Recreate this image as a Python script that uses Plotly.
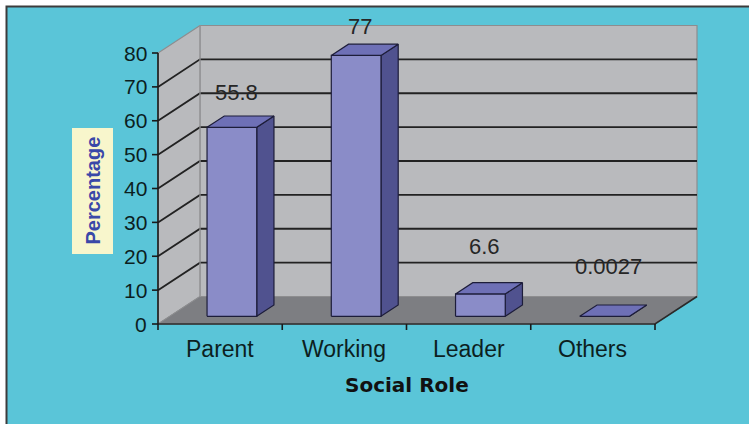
import plotly.graph_objects as go

# ---- data -------------------------------------------------------------
categories = ["Parent", "Working", "Leader", "Others"]
percentages = [55.8, 77, 6.6, 0.0027]
value_labels = ["55.8", "77", "6.6", "0.0027"]
y_ticks = [0, 10, 20, 30, 40, 50, 60, 70, 80]

# ---- pseudo-3D frame --------------------------------------------------
W, H = 749, 424
PX_X = 124.25          # pixels per category slot
PX_Y = 3.3875          # pixels per percentage point
X0_PX, Y0_PX = 158, 324  # front-left corner of the floor
DEPTH_X = 42 / PX_X    # depth offset expressed in category units
DEPTH_Y = 27.5 / PX_Y  # depth offset expressed in value units
YMAX = 80
NCAT = len(categories)

BAR_D0, BAR_D1 = 0.28, 0.69   # bar depth span (fraction of floor depth)
BAR_HALF = 0.2                # half bar width in category units

BG = "#5ac5d8"
WALL = "#b9babd"
FLOOR = "#7d7e82"
GRID = "#222222"
EDGE = "#8d8d8f"
FRONT = "#8a8cc8"
TOP = "#6e70b6"
SIDE = "#50528f"
OUTLINE = "#1d1d3a"
TEXT_FONT = "Liberation Sans, Arial"


def proj(c, v, d):
    """Map (category, value, depth fraction) to the 2-D plotting plane."""
    return c + d * DEPTH_X, v + d * DEPTH_Y


def poly(points, fill, line_color, width=1.0):
    xs, ys = zip(*points)
    xs = list(xs) + [xs[0]]
    ys = list(ys) + [ys[0]]
    return go.Scatter(x=xs, y=ys, mode="lines", fill="toself", fillcolor=fill,
                      line=dict(color=line_color, width=width),
                      hoverinfo="skip", showlegend=False)


def path(points, color, width=1.5):
    xs, ys = zip(*points)
    return go.Scatter(x=list(xs), y=list(ys), mode="lines",
                      line=dict(color=color, width=width),
                      hoverinfo="skip", showlegend=False)


fig = go.Figure()

# walls
fig.add_trace(poly([proj(0, 0, 1), proj(NCAT, 0, 1), proj(NCAT, YMAX, 1), proj(0, YMAX, 1)],
                   WALL, EDGE, 1.2))
fig.add_trace(poly([proj(0, 0, 0), proj(0, 0, 1), proj(0, YMAX, 1), proj(0, YMAX, 0)],
                   WALL, EDGE, 1.2))

# gridlines on the side and back walls
for t in y_ticks[1:-1]:
    fig.add_trace(path([proj(0, t, 0), proj(0, t, 1), proj(NCAT, t, 1)], GRID, 1.8))

# floor
fig.add_trace(poly([proj(0, 0, 0), proj(NCAT, 0, 0), proj(NCAT, 0, 1), proj(0, 0, 1)],
                   FLOOR, EDGE, 1.0))
fig.add_trace(path([proj(0, 0, 0), proj(NCAT, 0, 0), proj(NCAT, 0, 1)], "#2a2a2a", 1.6))
fig.add_trace(path([proj(0, 0, 1), proj(0, YMAX, 1)], "#9a9a9c", 1.2))

# bars
for i, v in enumerate(percentages):
    cx = i + 0.5
    xl, xr = cx - BAR_HALF, cx + BAR_HALF
    front = [proj(xl, 0, BAR_D0), proj(xr, 0, BAR_D0), proj(xr, v, BAR_D0), proj(xl, v, BAR_D0)]
    top = [proj(xl, v, BAR_D0), proj(xr, v, BAR_D0), proj(xr, v, BAR_D1), proj(xl, v, BAR_D1)]
    side = [proj(xr, 0, BAR_D0), proj(xr, 0, BAR_D1), proj(xr, v, BAR_D1), proj(xr, v, BAR_D0)]
    fig.add_trace(poly(side, SIDE, OUTLINE, 1.2))
    fig.add_trace(poly(front, FRONT, OUTLINE, 1.2))
    fig.add_trace(poly(top, TOP, OUTLINE, 1.2))

# value axis line and ticks
tick_len_c = 6 / PX_X
fig.add_trace(path([(0, 0), (0, YMAX)], "#1a1a1a", 1.6))
for t in y_ticks:
    fig.add_trace(path([(-tick_len_c, t), (0, t)], "#1a1a1a", 1.6))

# category ticks along the front edge of the floor
tick_len_v = 6 / PX_Y
for k in range(NCAT + 1):
    fig.add_trace(path([(k, 0), (k, -tick_len_v)], "#1a1a1a", 1.6))

annotations = []
for t in y_ticks:
    annotations.append(dict(x=0, y=t, xref="x", yref="y", text=str(t), showarrow=False,
                            xanchor="right", yanchor="middle", xshift=-9,
                            font=dict(family=TEXT_FONT, size=21, color="#0c1f1f")))
for i, name in enumerate(categories):
    annotations.append(dict(x=i + 0.5, y=0, xref="x", yref="y", text=name, showarrow=False,
                            xanchor="center", yanchor="middle", yshift=-25,
                            font=dict(family=TEXT_FONT, size=23, color="#0c1f1f")))

# value labels float above the bar tops
for i, (v, lab) in enumerate(zip(percentages, value_labels)):
    lx, ly = proj(i + 0.5, 0.92 * v + 15, 0.38)
    annotations.append(dict(x=lx, y=ly - 0.15 * DEPTH_Y, xref="x", yref="y", text=lab,
                            showarrow=False, xanchor="center", yanchor="middle",
                            font=dict(family=TEXT_FONT, size=22, color="#262626")))

annotations.append(dict(x=NCAT / 2, y=0, xref="x", yref="y", text="<b>Social Role</b>",
                        showarrow=False, xanchor="center", yanchor="middle", yshift=-61,
                        font=dict(family="DejaVu Sans", size=20, color="#111111")))
annotations.append(dict(x=92.5 / W, y=1 - 191 / H, xref="paper", yref="paper",
                        text="<b>Percentage</b>", textangle=-90, showarrow=False,
                        xanchor="center", yanchor="middle",
                        font=dict(family=TEXT_FONT, size=20, color="#3a48a8")))

shapes = [
    dict(type="rect", xref="paper", yref="paper", x0=6.5 / W, x1=1.05, y0=-0.05, y1=1 - 6.5 / H,
         fillcolor=BG, line=dict(color="#3c3c3c", width=2), layer="below"),
    dict(type="rect", xref="paper", yref="paper", x0=72 / W, x1=113 / W,
         y0=1 - 254 / H, y1=1 - 128 / H, fillcolor="#f8f6cc", line=dict(width=0), layer="below"),
]

x_range = [-X0_PX / PX_X, (W - X0_PX) / PX_X]
y_range = [-(H - Y0_PX) / PX_Y, Y0_PX / PX_Y]

fig.update_layout(
    width=W, height=H,
    margin=dict(l=0, r=0, t=0, b=0),
    paper_bgcolor="white",
    plot_bgcolor="rgba(0,0,0,0)",
    xaxis=dict(range=x_range, visible=False, fixedrange=True),
    yaxis=dict(range=y_range, visible=False, fixedrange=True),
    shapes=shapes,
    annotations=annotations,
    showlegend=False,
)

fig.write_html("out.html")
